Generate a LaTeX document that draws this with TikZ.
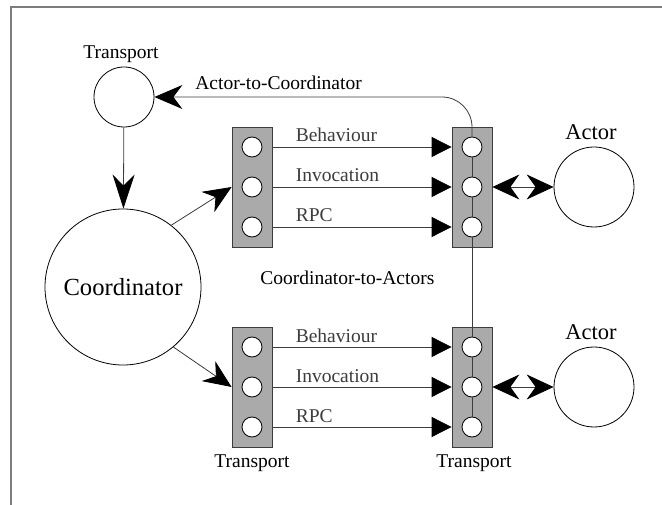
\documentclass[tikz,border=0pt]{standalone}
\usepackage{fontspec}
\setmainfont{Liberation Serif}
\usetikzlibrary{arrows.meta,positioning,calc}
\definecolor{boxgray}{RGB}{170,170,170}
\definecolor{wiregray}{RGB}{60,60,60}
\definecolor{framegray}{RGB}{125,125,125}

\begin{document}
\begin{tikzpicture}[x=1pt,y=-1pt,line width=0.8pt,
      every node/.style={font=\fontsize{19.5}{22}\selectfont},
      lbl/.style={inner sep=0pt,anchor=base west},
      proc/.style={draw,circle,minimum size=60pt,inner sep=0pt},
      bar/.style={draw=wiregray,fill=boxgray,minimum width=40pt,minimum height=120pt,inner sep=0pt},
      port/.style={draw,circle,fill=white,minimum size=20pt,inner sep=0pt},
      big/.style={wiregray,-{Stealth[length=28pt,width=24pt,inset=9pt,black]}},
      msg/.style={wiregray,-{Triangle[length=20pt,width=20pt,black]}}]
    \useasboundingbox (0,0) rectangle (662,505);
    \draw[framegray,line width=2pt] (662,7) -- (11,7) -- (11,505);
    % Coordinator side
    \node[proc] (ttop) at (124,97) {};
    \node[inner sep=0pt,anchor=base] (ttoplbl) at (121,59) {Transport};
    \node[proc,minimum size=156pt,font=\fontsize{24.6}{28}\selectfont] (coord) at (123,287) {Coordinator};
    \draw[big,-{Stealth[length=34pt,width=22pt,inset=11pt,black]}] (ttop) -- (coord);
    % Transport bars
    \node[bar] (cu) at (252,187) {};
    \node[bar] (au) at (472,187) {};
    \node[bar] (cl) at (252,387) {};
    \node[bar] (al) at (472,387) {};
    \foreach \nm in {cu,au,cl,al}{
      \foreach \k/\dy in {1/-40,2/0,3/40}{\node[port] (\nm\k) at ($(\nm)+(0,\dy)$) {};}}
    \foreach \a/\b in {au1/au2,au2/au3,au3/al1,al1/al2,al2/al3}{\draw[wiregray] (\a.south) -- (\b.north);}
    % Messages
    \foreach \r in {u,l}{
      \foreach \k/\t in {1/Behaviour,2/Invocation,3/RPC}{
        \draw[msg] (c\r\k -| c\r.east) node[lbl,xshift=23pt,yshift=5pt] {\t} -- (c\r\k -| a\r.west);}}
    \draw[big] (coord.52) -- (cu.west);
    \draw[big] (coord.-50) -- (cl.west);
    % Actors
    \node[proc,minimum size=80pt] (act1) at (594,187) {};
    \node[proc,minimum size=80pt] (act2) at (594,387) {};
    \node[inner sep=0pt,anchor=base,font=\fontsize{22.5}{26}\selectfont] (act1lbl) at (591,140) {Actor};
    \node[inner sep=0pt,anchor=base,font=\fontsize{22.5}{26}\selectfont] (act2lbl) at (591,340) {Actor};
    \foreach \a/\b in {au/act1,al/act2}{
      \draw[wiregray,{Stealth[length=27pt,width=25pt,inset=9pt,black]}-{Stealth[length=27pt,width=25pt,inset=9pt,black]}] (\a.east) -- (\b.west);}
    \draw[big,rounded corners=30pt] (au1.north) |- (ttop.east);
    \node[lbl] (a2clbl) at (195,90) {Actor-to-Coordinator};
    \node[lbl] (c2albl) at (260,285) {Coordinator-to-Actors};
    \node[inner sep=0pt,anchor=base] (cllbl) at (252,467) {Transport};
    \node[inner sep=0pt,anchor=base] (allbl) at (474,467) {Transport};
  \end{tikzpicture}
\end{document}
